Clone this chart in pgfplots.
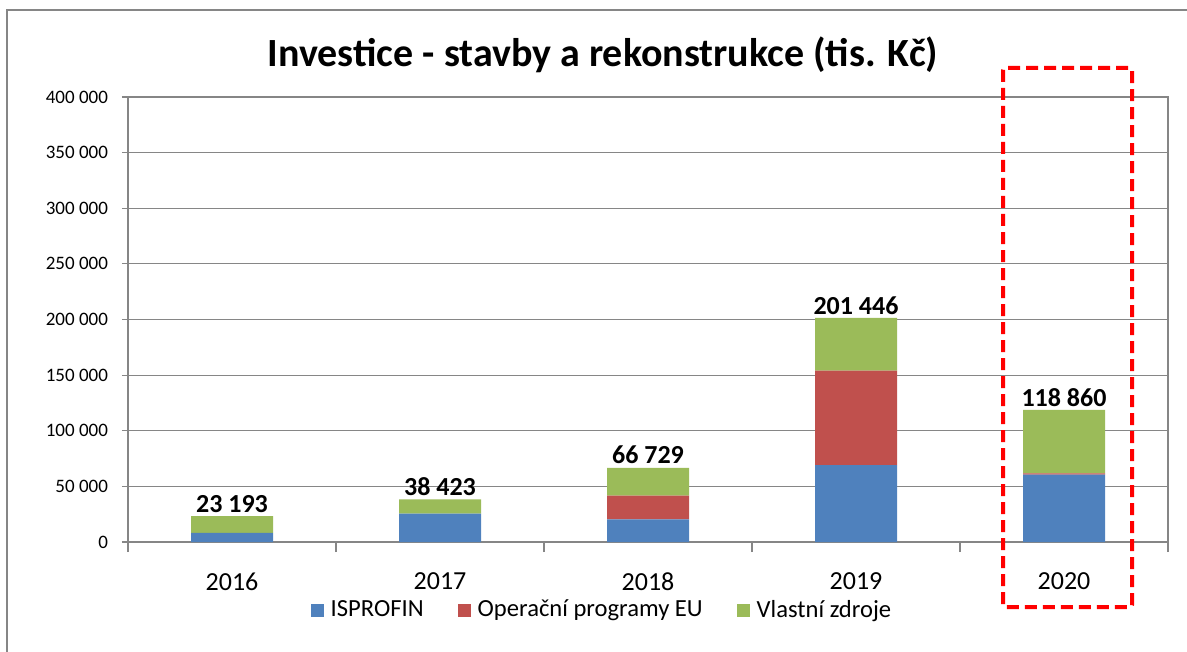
\documentclass[border=0pt]{standalone}
\usepackage{pgfplots}
\pgfplotsset{compat=1.18}
\usepackage{fontspec}
\setmainfont{Carlito}
\definecolor{cBlue}{RGB}{79,129,189}
\definecolor{cRed}{RGB}{192,80,77}
\definecolor{cGreen}{RGB}{155,187,89}
\definecolor{cGrid}{RGB}{134,134,134}
\definecolor{cDash}{RGB}{255,0,0}
\begin{document}
\begin{tikzpicture}
\useasboundingbox (0,0) rectangle (593.5pt,-326pt);
% outer chart frame (cropped on right and bottom)
\draw[cGrid, line width=0.75pt] (3.5pt,-340pt) -- (3.5pt,-5pt) -- (600pt,-5pt);
\node[font=\fontsize{20}{24}\selectfont\bfseries] at (301.5pt,-27.5pt) {Investice - stavby a rekonstrukce (tis. Kč)};
\begin{axis}[
  at={(64pt,-271pt)}, anchor=south west,
  width=520pt, height=222.5pt, scale only axis,
  ybar stacked, bar width=41pt,
  xmin=-0.5, xmax=4.5, ymin=0, ymax=400000,
  xtick={0,1,2,3,4}, xticklabels={2016,2017,2018,2019,2020},
  minor xtick={-0.5,0.5,1.5,2.5,3.5,4.5},
  ytick={0,50000,100000,150000,200000,250000,300000,350000,400000},
  yticklabels={0,50 000,100 000,150 000,200 000,250 000,300 000,350 000,400 000},
  scaled y ticks=false,
  tick align=outside, xtick pos=bottom, ytick pos=left,
  major x tick style={draw=none},
  minor tick length=5pt, major tick length=3pt,
  every tick/.style={cGrid, line width=0.6pt},
  ymajorgrids, grid style={cGrid, line width=0.5pt},
  axis line style={cGrid, line width=0.6pt},
  yticklabel style={font=\fontsize{9.5}{11}\selectfont, xshift=-3.5pt},
  xticklabel style={font=\fontsize{13}{15}\selectfont, yshift=-9pt},
  legend style={at={(0.4567,-0.153)}, anchor=center, draw=none,
    legend columns=3, font=\fontsize{12.3}{14}\selectfont,
    /tikz/every even column/.append style={column sep=15pt}},
  legend image code/.code={\fill[#1] (0pt,-3.25pt) rectangle (6.5pt,3.25pt); \path (8pt,0pt);},
  clip=false,
]
\addplot+[fill=cBlue, draw=none] coordinates {(0,8100) (1,25400) (2,20400) (3,69200) (4,60500)};
\addplot+[fill=cRed, draw=none] coordinates {(0,0) (1,0) (2,21200) (3,84800) (4,1200)};
\addplot+[fill=cGreen, draw=none] coordinates {(0,15093) (1,13023) (2,25129) (3,47446) (4,57160)};
% near-zero series on top of the stack carrying the totals
\addplot+[draw=none, fill=none, forget plot, point meta=explicit symbolic, nodes near coords,
  nodes near coords style={font=\fontsize{13}{15}\selectfont\bfseries, text=black, anchor=center, yshift=6.3pt}]
  coordinates {(0,1)[23 193] (1,1)[38 423] (2,1)[66 729] (3,1)[201 446] (4,1)[118 860]};
\legend{ISPROFIN, Operační programy EU, Vlastní zdroje}
\end{axis}
\draw[cDash, line width=2pt, dash pattern=on 6pt off 3pt, rounded corners=1pt] (501.5pt,-34pt) rectangle (566pt,-303.5pt);
\end{tikzpicture}
\end{document}
